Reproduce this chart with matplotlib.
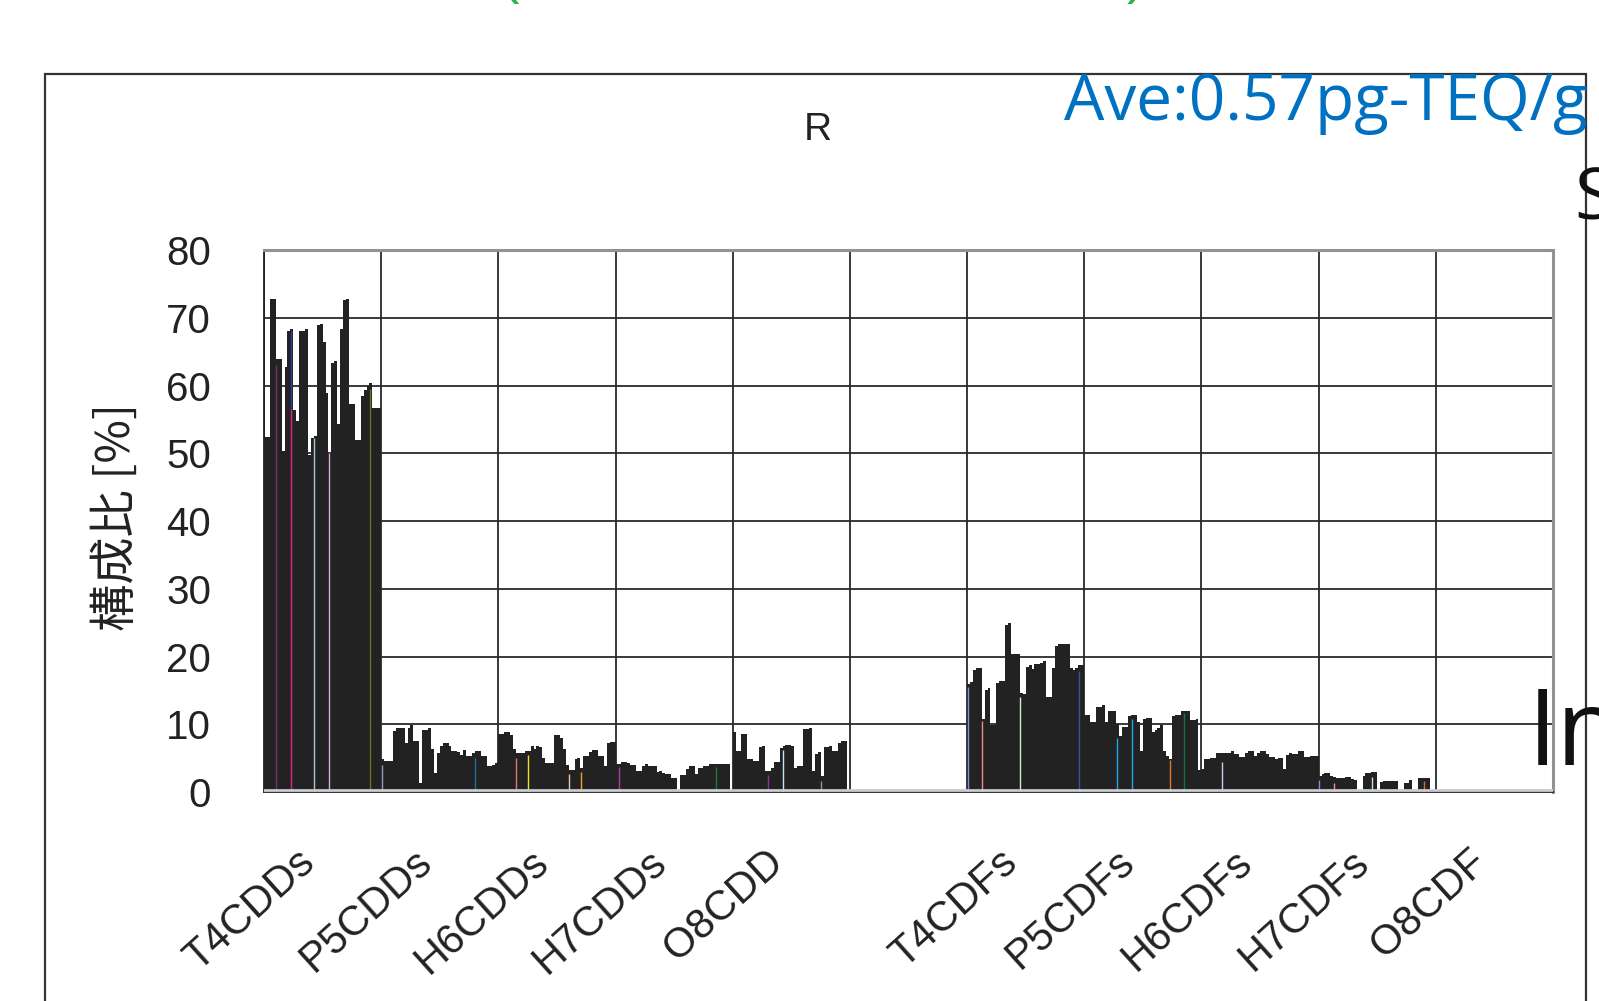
import matplotlib
matplotlib.use("Agg")
import matplotlib.pyplot as plt
import numpy as np
from matplotlib.patches import Rectangle
from matplotlib.transforms import ScaledTranslation

plt.rcParams["font.family"] = ["Liberation Sans", "Noto Sans CJK JP", "DejaVu Sans"]

# ------------------------------------------------------------
# Data (one bar per sample)
# ------------------------------------------------------------
categories = ["T4CDDs", "P5CDDs", "H6CDDs", "H7CDDs", "O8CDD", "",
              "T4CDFs", "P5CDFs", "H6CDFs", "H7CDFs", "O8CDF"]
y_ticks = [0, 10, 20, 30, 40, 50, 60, 70, 80]
SLOTS = 40  # samples per homolog column

t4cdds = [52.4, 52.4, 72.8, 72.8, 63.9, 63.9, 50.4, 62.8, 68.0, 68.3,
          56.4, 54.7, 68.1, 68.1, 68.3, 49.7, 52.2, 52.5, 68.9, 69.1,
          66.5, 58.9, 50.0, 63.4, 63.6, 54.3, 68.4, 72.6, 72.8, 57.3,
          57.3, 51.9, 51.9, 58.4, 59.4, 60.0, 60.4, 56.7, 56.7, 56.7]
p5cdds = [4.8, 4.6, 4.6, 4.6, 9.0, 9.4, 9.4, 9.4, 7.3, 9.4,
          9.9, 7.5, 7.5, 1.3, 9.2, 9.2, 9.4, 6.3, 2.8, 5.8,
          6.8, 7.3, 7.3, 6.8, 6.0, 6.0, 5.9, 5.5, 6.2, 5.3,
          5.3, 5.8, 6.1, 6.1, 5.3, 5.3, 3.9, 3.9, 4.0, 4.3]
h6cdds = [8.5, 8.5, 8.8, 8.8, 8.4, 6.3, 5.8, 5.8, 5.8, 6.0,
          6.0, 6.8, 6.3, 6.8, 6.7, 5.0, 4.3, 4.3, 4.3, 8.4,
          8.4, 8.0, 6.3, 4.0, 3.3, 3.3, 4.8, 5.0, 3.5, 5.3,
          5.3, 5.9, 6.2, 6.2, 5.3, 5.3, 3.8, 7.3, 7.4, 7.4]
h7cdds = [4.1, 4.1, 4.4, 4.4, 4.3, 4.0, 4.0, 3.1, 3.1, 3.9,
          4.2, 3.8, 3.9, 3.9, 2.9, 3.1, 2.8, 2.6, 2.6, 2.1,
          2.1, 0.3, 2.5, 2.5, 3.4, 3.9, 3.9, 2.6, 3.6, 3.6,
          3.8, 3.8, 4.1, 4.2, 4.2, 4.1, 4.1, 4.2, 4.2, 0.0]
o8cdd = [8.9, 6.1, 6.1, 8.6, 8.5, 4.9, 4.9, 4.6, 4.6, 6.6,
         6.8, 3.1, 3.1, 3.6, 4.4, 4.4, 6.5, 6.8, 7.0, 7.0,
         6.8, 3.6, 3.8, 3.8, 9.3, 9.3, 9.4, 3.1, 5.6, 5.9,
         2.4, 6.6, 6.6, 6.8, 6.0, 6.1, 7.3, 7.5, 7.5, 0.0]
t4cdfs = [16.0, 16.3, 18.0, 18.3, 18.3, 10.8, 15.1, 15.3, 9.9, 9.9,
          16.1, 16.4, 16.4, 24.6, 24.9, 20.3, 20.3, 20.3, 14.6, 14.4,
          18.5, 18.7, 18.2, 18.9, 18.9, 19.1, 19.3, 14.0, 14.0, 18.3,
          21.5, 21.8, 21.8, 21.8, 21.8, 18.3, 18.0, 18.3, 18.8, 18.8]
p5cdfs = [11.4, 11.4, 10.3, 10.3, 12.6, 12.6, 12.8, 10.3, 12.0, 12.0,
          11.9, 10.1, 8.2, 9.6, 9.6, 11.2, 11.4, 11.3, 10.3, 6.1,
          10.8, 10.9, 10.9, 8.9, 9.1, 9.5, 9.9, 6.0, 5.3, 4.9,
          11.2, 11.4, 11.4, 12.0, 12.0, 12.0, 10.6, 10.6, 10.8, 3.2]
h6cdfs = [3.4, 4.9, 4.9, 5.0, 5.0, 5.7, 5.7, 5.7, 5.8, 5.8,
          6.0, 5.6, 5.6, 5.2, 5.2, 5.7, 6.0, 6.0, 5.3, 5.7,
          6.0, 6.0, 5.6, 5.2, 5.2, 4.9, 5.0, 5.0, 3.4, 5.5,
          5.8, 5.6, 5.6, 6.0, 6.0, 5.2, 5.2, 5.3, 5.3, 5.3]
h7cdfs = [2.4, 2.6, 2.8, 2.8, 2.3, 2.2, 2.1, 2.1, 2.1, 2.2,
          2.2, 1.9, 1.7, 0.0, 0.0, 2.3, 2.8, 2.8, 2.9, 2.9,
          0.0, 1.5, 1.6, 1.6, 1.6, 1.6, 1.6, 0.0, 0.0, 1.3,
          1.3, 1.8, 0.0, 0.0, 2.0, 2.1, 2.1, 2.0, 0.0, 0.0]
o8cdf = [0.0] * SLOTS

series = [t4cdds, p5cdds, h6cdds, h7cdds, o8cdd, [],
          t4cdfs, p5cdfs, h6cdfs, h7cdfs, o8cdf]

# samples drawn in their own colour (column, sample index, top, colour)
mark_group = [0, 0, 0, 0, 0, 0, 1, 1, 2, 2, 2, 2, 3, 3, 4, 4, 4,
              6, 6, 6, 6, 7, 7, 7, 7, 8, 9, 9, 9, 9]
mark_index = [4, 9, 9, 17, 22, 36, 0, 32, 6, 10, 24, 28, 1, 34, 12, 17, 30,
              0, 5, 18, 38, 11, 16, 29, 34, 7, 0, 5, 18, 36]
mark_top = [63.0, 68.0, 56.5, 52.3, 50.0, 59.5, 4.0, 5.0, 5.0, 5.5, 2.6, 3.0,
            3.7, 3.7, 2.5, 6.2, 1.6, 15.5, 10.5, 14.0, 17.8, 8.0, 10.8, 4.7,
            11.6, 4.5, 1.8, 1.3, 2.2, 1.6]
mark_color = ["#7a3070", "#3040a0", "#e0207a", "#a8c8d0", "#d8a8d8", "#707020",
              "#9098d0", "#1f6f9f", "#d87878", "#f0e020", "#f0c8a8", "#f0a030",
              "#b03ca0", "#1f7a3a", "#9030a0", "#c8e4f4", "#8894a0",
              "#8090d0", "#f08a8a", "#d0ecd0", "#3a50a8",
              "#20a8e8", "#20a8e8", "#e07828", "#1a7040", "#c8cef4",
              "#8090d0", "#f09090", "#c0e8d0", "#d07030"]

# ------------------------------------------------------------
# Figure
# ------------------------------------------------------------
fig = plt.figure(figsize=(15.99, 10.01), dpi=100)
ax = fig.add_axes([0.1651, 0.2088, 0.8061, 0.5414])

for k, vals in enumerate(series):
    if not vals:
        continue
    x = k + (np.arange(len(vals)) + 0.5) / SLOTS
    ax.bar(x, vals, width=1.0 / SLOTS, color="#222222", linewidth=0, zorder=2)

mx = np.array(mark_group) + (np.array(mark_index) + 0.15) / SLOTS
ax.vlines(mx, 0, mark_top, colors=mark_color, linewidth=1.0, zorder=3)

ax.set_xlim(0, len(categories))
ax.set_ylim(0, 80)
ax.set_yticks(y_ticks)
ax.set_yticklabels([str(v) for v in y_ticks], fontsize=29, color="#222222")

ax.set_xticks(np.arange(len(categories) + 1))
ax.set_xticklabels([])
ax.set_xticks(np.arange(len(categories)) + 0.5, minor=True)
ax.set_xticklabels(categories, minor=True, rotation=42, ha="right", va="top",
                   fontsize=30, color="#222222")
offset = ScaledTranslation(-0.27, 0, fig.dpi_scale_trans)
for lbl in ax.get_xticklabels(minor=True):
    lbl.set_transform(lbl.get_transform() + offset)

ax.tick_params(axis="both", which="both", length=0)
ax.tick_params(axis="y", pad=38)
ax.tick_params(axis="x", which="minor", pad=36)

ax.set_axisbelow(True)
ax.grid(axis="x", which="major", color="#2a2a2a", linewidth=1.3)
ax.grid(axis="y", which="major", color="#2a2a2a", linewidth=1.3)

for side in ("top", "right"):
    ax.spines[side].set_color("#8e9398")
    ax.spines[side].set_linewidth(2.2)
for side in ("left", "bottom"):
    ax.spines[side].set_color("#222222")
    ax.spines[side].set_linewidth(1.3)
ax.axhline(0.35, color="#c8ccd0", linewidth=2.0, zorder=4)

ax.set_ylabel("構成比 [%]", fontsize=34, color="#222222",
              family=["Noto Sans CJK JP", "DejaVu Sans"])
ax.yaxis.label.set_va("center")
ax.yaxis.set_label_coords(-0.114, 0.507)

# outer frame of the panel
fig.add_artist(Rectangle((0.0281, -0.1), 0.9638, 1.0256, transform=fig.transFigure,
                         fill=False, edgecolor="#333333", linewidth=1.6))

fig.text(818 / 1599, 1 - 130 / 1001, "R", ha="center", va="center",
         fontsize=28, color="#222222")
fig.text(1064 / 1599, 1 - 120 / 1001, "Ave:0.57pg-TEQ/g", ha="left", va="baseline",
         fontsize=46, color="#0070c0", family="Open Sans")

# neighbouring content, cut off at the edges
fig.text(500 / 1599, 1.008, "(", ha="left", va="baseline", fontsize=40, color="#2db34a")
fig.text(1127 / 1599, 1.008, ")", ha="left", va="baseline", fontsize=40, color="#2db34a")
fig.text(1574 / 1599, 1 - 219 / 1001, "S", ha="left", va="baseline",
         fontsize=52, color="#111111", family="Open Sans")
fig.text(1528 / 1599, 1 - 765 / 1001, "In", ha="left", va="baseline",
         fontsize=76, color="#111111", family="Open Sans")

fig.savefig("out.png", dpi=100)
